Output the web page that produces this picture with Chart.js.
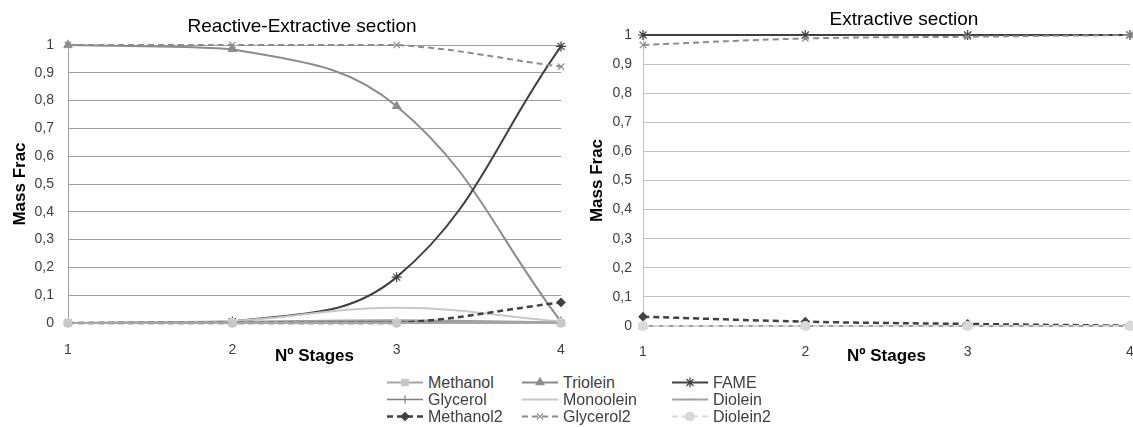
<!DOCTYPE html>
<html>
<head>
  <title>Mass fraction profiles</title>
  <meta charset="UTF-8" />
  <script src="https://cdn.jsdelivr.net/npm/chart.js"></script>
  <style>
    body { margin: 0; background: #fff; width: 1133px; height: 427px; overflow: hidden; position: relative; }
    .chart-box { position: absolute; top: 0; }
    #leftBox { left: 0; width: 604px; height: 367px; }
    #rightBox { left: 580px; width: 648px; height: 367px; }
    .chart-title {
      position: absolute; transform: translateX(-50%); white-space: nowrap;
      font-family: "Liberation Sans", Arial, sans-serif; font-size: 19px; line-height: 22px; color: #000;
    }
    #leftTitle { left: 302px; top: 15px; }
    #rightTitle { left: 904px; top: 8px; }
    #legend {
      position: absolute; left: 385px; top: 374px;
      display: grid; grid-template-columns: 135px 150px 130px; grid-auto-rows: 17px;
      font-family: "Liberation Sans", Arial, sans-serif; font-size: 16px; color: #404040;
    }
    .item { display: flex; align-items: center; white-space: nowrap; }
    .item canvas { margin-right: 3px; }
  </style>
</head>
<body>
  <div class="chart-box" id="leftBox"><canvas id="leftChart"></canvas></div>
  <div class="chart-box" id="rightBox"><canvas id="rightChart"></canvas></div>
  <div class="chart-title" id="leftTitle">Reactive-Extractive section</div>
  <div class="chart-title" id="rightTitle">Extractive section</div>
  <div id="legend"></div>

  <script>
    const stages = ['1', '2', '3', '4'];
    const yTickLabels = ['0', '0,1', '0,2', '0,3', '0,4', '0,5', '0,6', '0,7', '0,8', '0,9', '1'];
    const seriesNames = ['Methanol', 'Triolein', 'FAME', 'Glycerol', 'Monoolein', 'Diolein', 'Methanol2', 'Glycerol2', 'Diolein2'];

    // Reactive-Extractive section
    const reMethanol  = [0, 0, 0, 0];
    const reTriolein  = [1, 0.985, 0.78, 0.005];
    const reFame      = [0, 0.005, 0.165, 0.995];
    const reGlycerol  = [0, 0.003, 0.005, 0.002];
    const reMonoolein = [0, 0.008, 0.055, 0.005];
    const reDiolein   = [0, 0.004, 0.01, 0.002];
    const reMethanol2 = [0, 0, 0, 0.074];
    const reGlycerol2 = [1, 1, 1, 0.922];
    const reDiolein2  = [0, 0, 0, 0];

    // Extractive section
    const exMethanol  = [0, 0, 0, 0];
    const exTriolein  = [0, 0, 0, 0];
    const exFame      = [1, 1, 1, 1];
    const exGlycerol  = [0, 0, 0, 0];
    const exMonoolein = [0, 0, 0, 0];
    const exDiolein   = [0, 0, 0, 0];
    const exMethanol2 = [0.032, 0.015, 0.007, 0.001];
    const exGlycerol2 = [0.966, 0.988, 0.994, 1];
    const exDiolein2  = [0, 0, 0, 0];

    const reSeries = [reMethanol, reTriolein, reFame, reGlycerol, reMonoolein, reDiolein, reMethanol2, reGlycerol2, reDiolein2];
    const exSeries = [exMethanol, exTriolein, exFame, exGlycerol, exMonoolein, exDiolein, exMethanol2, exGlycerol2, exDiolein2];

    const FONT = '"Liberation Sans", Arial, sans-serif';

    // line / marker look of each series, same order as seriesNames
    const styles = [
      { line: '#a6a6a6', fill: '#c8c8c8', point: 'rect', r: 4.5, w: 2, dash: [] },
      { line: '#8c8c8c', fill: '#8c8c8c', point: 'triangle', r: 4.5, w: 2, dash: [] },
      { line: '#404040', fill: '#404040', point: 'star', r: 5, w: 2, dash: [] },
      { line: '#808080', fill: '#808080', point: 'cross', r: 4, w: 1.5, dash: [] },
      { line: '#c8c8c8', fill: '#c8c8c8', point: 'line', r: 3, w: 2, dash: [] },
      { line: '#a0a0a0', fill: '#a0a0a0', point: 'line', r: 3, w: 2, dash: [] },
      { line: '#404040', fill: '#404040', point: 'rectRot', r: 4, w: 2.5, dash: [6, 4] },
      { line: '#8c8c8c', fill: '#8c8c8c', point: 'crossRot', r: 4.5, w: 2, dash: [6, 4] },
      { line: '#d9d9d9', fill: '#d9d9d9', point: 'circle', r: 4.5, w: 2, dash: [6, 4] }
    ];

    function makeDatasets(series, topIndex) {
      return series.map((values, i) => ({
        label: seriesNames[i],
        data: values,
        borderColor: styles[i].line,
        borderWidth: styles[i].w,
        borderDash: styles[i].dash,
        pointStyle: styles[i].point,
        pointRadius: styles[i].r,
        pointBackgroundColor: styles[i].fill,
        pointBorderColor: styles[i].fill,
        pointBorderWidth: 1.2,
        tension: 0.4,
        clip: false,
        // later series drawn on top, except the one asked to be on top
        order: i === topIndex ? 0 : seriesNames.length - i
      }));
    }

    function makeChart(id, series, o) {
      return new Chart(document.getElementById(id), {
        type: 'line',
        data: { labels: stages, datasets: makeDatasets(series, o.topIndex) },
        options: {
          responsive: true,
          maintainAspectRatio: false,
          animation: false,
          layout: { padding: { top: o.padTop, left: 0, right: o.padRight, bottom: 0 } },
          plugins: {
            legend: { display: false },
            tooltip: { enabled: false },
            title: { display: false }
          },
          scales: {
            x: {
              offset: false,
              grid: { display: false, drawTicks: false },
              border: { display: false },
              ticks: { color: '#404040', font: { family: FONT, size: 14 }, padding: o.xPad, maxRotation: 0, autoSkip: false },
              title: {
                display: true, text: 'Nº Stages', color: '#000',
                font: { family: FONT, size: 17, weight: 'bold' },
                padding: { top: 0, bottom: 0 }
              },
              afterFit: scale => { scale.height = o.xHeight; }
            },
            y: {
              min: 0, max: 1,
              grid: { color: o.gridColor, lineWidth: 1, drawTicks: false },
              border: { display: true, color: o.gridColor },
              ticks: {
                stepSize: 0.1, color: '#404040', padding: o.yPad,
                font: { family: FONT, size: 14 },
                callback: (v, i) => yTickLabels[i]
              },
              title: {
                display: true, text: 'Mass Frac', color: '#000',
                font: { family: FONT, size: 17, weight: 'bold' },
                padding: { top: o.yTitleTop, bottom: 0 }
              },
              afterFit: scale => { scale.width = o.yWidth; }
            }
          }
        }
      });
    }

    makeChart('leftChart', reSeries, {
      padTop: 45, padRight: 43, xPad: 19, xHeight: 44,
      yPad: 14, yTitleTop: 10, yWidth: 68, gridColor: '#a0a0a0', topIndex: 0
    });
    makeChart('rightChart', exSeries, {
      padTop: 35, padRight: 98, xPad: 18, xHeight: 41,
      yPad: 11, yTitleTop: 7, yWidth: 63, gridColor: '#c0c0c0', topIndex: -1
    });

    // shared legend below both charts
    const legend = document.getElementById('legend');
    seriesNames.forEach((name, i) => {
      const s = styles[i];
      const item = document.createElement('div');
      item.className = 'item';
      const c = document.createElement('canvas');
      c.width = 40; c.height = 17;
      const ctx = c.getContext('2d');
      ctx.strokeStyle = s.line;
      ctx.lineWidth = s.w;
      ctx.setLineDash(s.dash);
      ctx.beginPath();
      ctx.moveTo(2, 8.5);
      ctx.lineTo(38, 8.5);
      ctx.stroke();
      ctx.setLineDash([]);
      ctx.fillStyle = s.fill;
      ctx.strokeStyle = s.fill;
      ctx.lineWidth = 1.2;
      Chart.helpers.drawPoint(ctx, { pointStyle: s.point, radius: s.r, rotation: 0, borderWidth: 1.2 }, 20, 8.5);
      const t = document.createElement('span');
      t.textContent = name;
      item.appendChild(c);
      item.appendChild(t);
      legend.appendChild(item);
    });
  </script>
</body>
</html>
